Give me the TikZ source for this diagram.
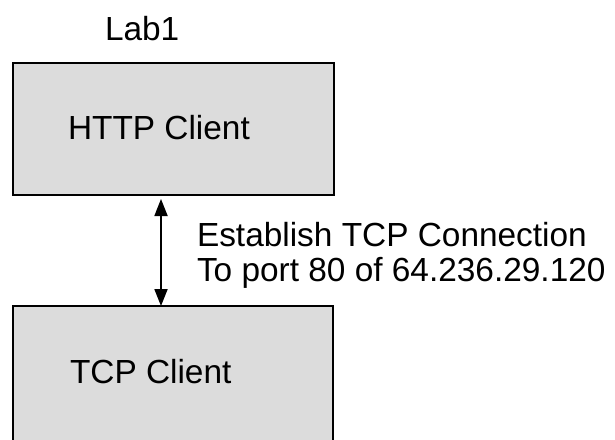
\documentclass[tikz,border=0pt]{standalone}
\usepackage{fontspec}
\setmainfont{Liberation Sans}
\usetikzlibrary{arrows.meta,calc}
\definecolor{boxfill}{HTML}{DCDCDC}
\tikzset{
  x=1pt,y=1pt,
  every node/.style={font=\fontsize{33.4}{38}\selectfont, inner sep=0pt, outer sep=0pt},
  block/.style={draw=black, line width=1.8pt, fill=boxfill, rectangle, anchor=north west},
  txt/.style={anchor=base west},
  conn/.style={line width=1.8pt, {Triangle[width=13pt,length=17pt]}-{Triangle[width=13pt,length=17pt]}}
}
\begin{document}
\begin{tikzpicture}
  \useasboundingbox (0,0) rectangle (615,-439);
  \clip (0,0) rectangle (615,-439);
  \fill[white] (0,0) rectangle (615,-439);

  % the two layers
  \node[block, minimum width=321pt, minimum height=132pt] (http) at (13,-63) {};
  \node[block, minimum width=320pt, minimum height=170pt] (tcp) at (13,-306) {};

  % labels
  \node[txt] (lab) at (105,-40) {Lab1};
  \node[txt] (httplbl) at (68,-139) {HTTP Client};
  \node[txt] (tcplbl) at (70,-383) {TCP Client};
  \node[txt] (est) at (197,-246) {Establish TCP Connection};
  \node[txt] (port) at (197,-281) {To port 80 of 64.236.29.120};

  % connection between the layers
  \coordinate (ax) at (161,0);
  \draw[conn, shorten <=4pt] (http.south -| ax) -- (tcp.north -| ax);
\end{tikzpicture}
\end{document}
